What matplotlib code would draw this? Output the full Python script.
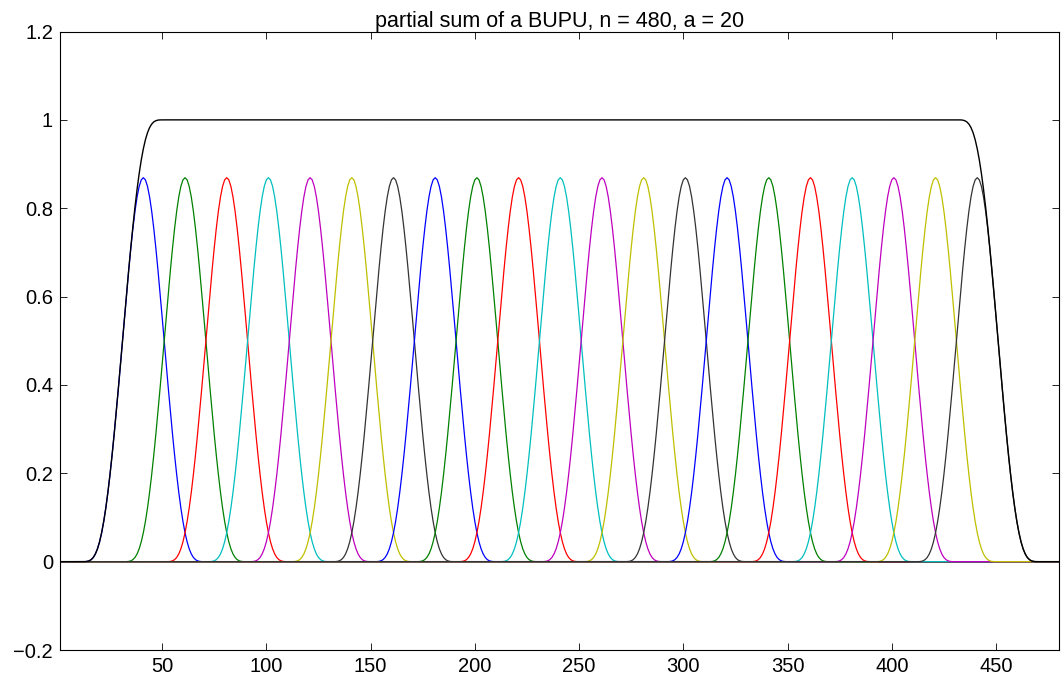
import numpy as np
import matplotlib
matplotlib.use("Agg")
import matplotlib.pyplot as plt

plt.rcParams['font.family'] = ['Liberation Sans', 'DejaVu Sans']

# BUPU parameters
n = 480
a = 20
# centres of the bumps in the full partition (cyclic on 1..n)
all_centres = [1, 21, 41, 61, 81, 101, 121, 141, 161, 181, 201, 221, 241, 261,
               281, 301, 321, 341, 361, 381, 401, 421, 441, 461]
# centres of the bumps that are drawn and summed
shown_centres = [41, 61, 81, 101, 121, 141, 161, 181, 201, 221, 241, 261, 281,
                 301, 321, 341, 361, 381, 401, 421, 441]
bump_colors = ['b', 'g', 'r', 'c', 'm', 'y', '#333333']

xticks = [50, 100, 150, 200, 250, 300, 350, 400, 450]
yticks = [-0.2, 0, 0.2, 0.4, 0.6, 0.8, 1.0, 1.2]
title = 'partial sum of a BUPU, n = 480, a = 20'

x = np.arange(1, n + 1)
half = 1.5 * a


def window(c):
    d = np.abs(x - c)
    d = np.minimum(d, n - d)
    t = np.clip(d / half, 0, 1)
    return (1 - t ** 2) ** 4.4


total = sum(window(c) for c in all_centres)
bumps = [window(c) / total for c in shown_centres]
psum = np.sum(bumps, axis=0)

fig = plt.figure(figsize=(10.61, 6.82), dpi=100)
ax = fig.add_axes([0.0565, 0.0469, 0.9412, 0.9069])

for i, b in enumerate(bumps):
    ax.plot(x, b, color=bump_colors[i % len(bump_colors)], lw=0.9)
ax.plot(x, psum, color='k', lw=1.0)

ax.set_xlim(1, n)
ax.set_ylim(-0.2, 1.2)
ax.set_xticks(xticks)
ax.set_yticks(yticks)
ax.set_yticklabels(['\u22120.2', '0', '0.2', '0.4', '0.6', '0.8', '1', '1.2'])
ax.tick_params(direction='in', top=True, right=True, labelsize=14.5, length=5, width=0.6, pad=5)
for s in ax.spines.values():
    s.set_linewidth(0.8)
ax.set_title(title, fontsize=15.5, pad=3)

fig.savefig('out.png', dpi=100)
